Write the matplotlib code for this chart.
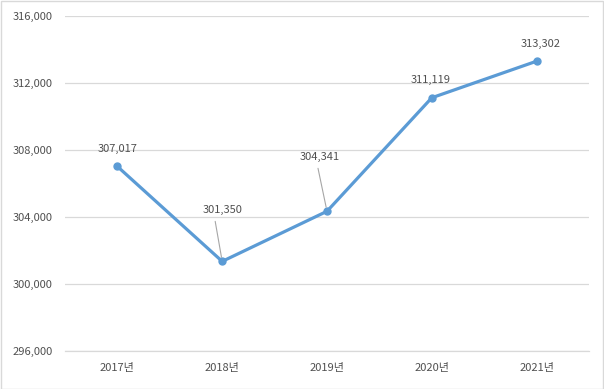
import matplotlib.pyplot as plt
from matplotlib.patches import Rectangle

years = ["2017년", "2018년", "2019년", "2020년", "2021년"]
values = [307017, 301350, 304341, 311119, 313302]
label_offsets = [(0, 17), (0, 51), (-7, 54), (-1, 18), (4, 17)]
leader = [False, True, True, False, False]
y_ticks = [296000, 300000, 304000, 308000, 312000, 316000]

plt.rcParams['font.family'] = ['Noto Sans CJK KR', 'DejaVu Sans']
text_color = "#505050"
grid_color = "#D9D9D9"
line_color = "#5B9BD5"

fig = plt.figure(figsize=(6.04, 3.89), dpi=100)
ax = fig.add_axes([65 / 604, 38 / 389, 524 / 604, 335 / 389])

x = list(range(len(years)))
ax.plot(x, values, color=line_color, lw=2.3, marker="o", ms=5,
        solid_capstyle="round", zorder=3)

for i, v in enumerate(values):
    dx, dy = label_offsets[i]
    ax.annotate(f"{v:,}", (i, v), xytext=(dx, dy), textcoords="offset pixels",
                ha="center", va="center", fontsize=8, color=text_color)
    if leader[i]:
        ax.annotate("", (i, v), xytext=(dx - 7 if i == 1 else dx - 2, dy - 11),
                    textcoords="offset pixels",
                    arrowprops=dict(arrowstyle="-", color="#A6A6A6", lw=0.8,
                                    shrinkA=0, shrinkB=3))

ax.set_xlim(-0.5, len(years) - 0.5)
ax.set_ylim(y_ticks[0], y_ticks[-1])
ax.set_yticks(y_ticks)
ax.set_yticklabels([f"{t:,}" for t in y_ticks])
ax.set_xticks(x)
ax.set_xticklabels(years)
ax.tick_params(length=0, labelsize=8, labelcolor=text_color)
ax.tick_params(axis="y", pad=9)
ax.tick_params(axis="x", pad=9)
ax.grid(axis="y", color=grid_color, lw=0.9)
ax.set_axisbelow(True)
for s in ["top", "right", "left"]:
    ax.spines[s].set_visible(False)
ax.spines["bottom"].set_color(grid_color)
ax.spines["bottom"].set_linewidth(0.9)

fig.patches.append(Rectangle((0.001, 0.001), 0.997, 0.996, transform=fig.transFigure,
                             fill=False, edgecolor=grid_color, lw=1))

fig.savefig("out.png", dpi=100)
